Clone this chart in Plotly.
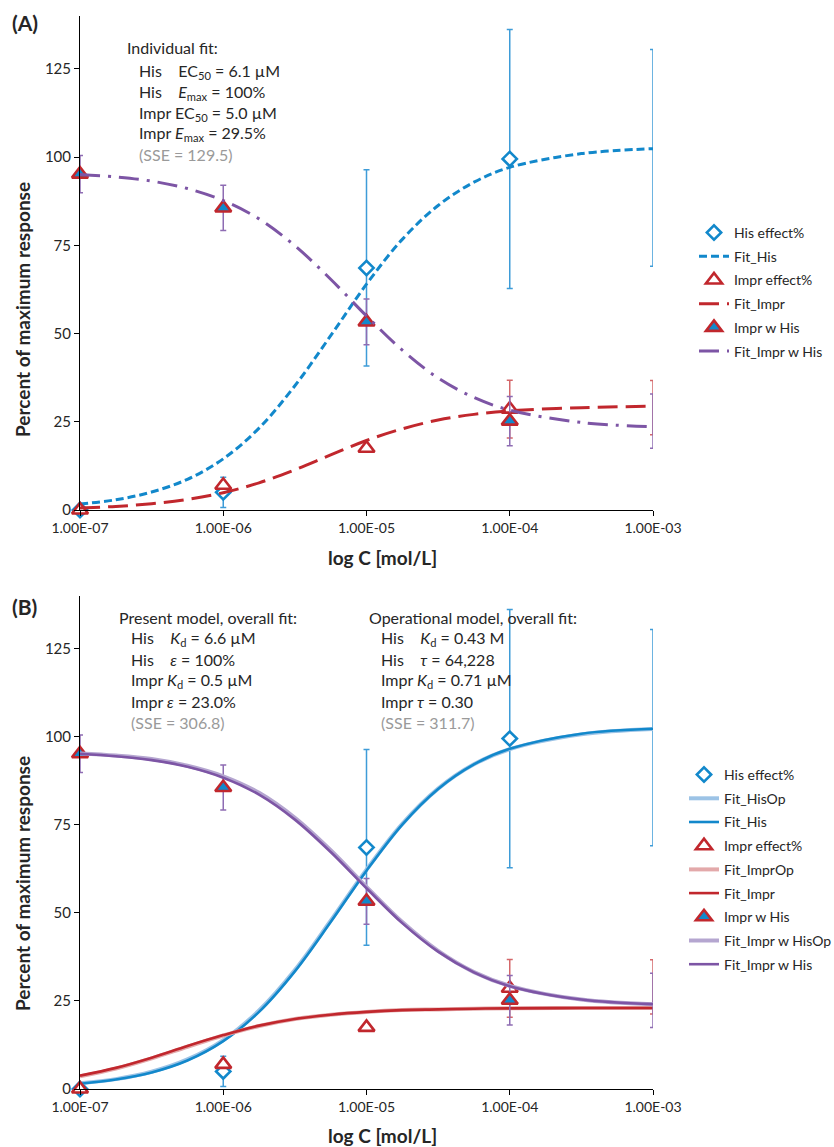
import plotly.graph_objects as go

# ---------------- data ----------------
conc = [1e-7, 1e-6, 1e-5, 1e-4, 1e-3]
tick_text = ["1.00E-07", "1.00E-06", "1.00E-05", "1.00E-04", "1.00E-03"]
y_ticks = [0, 25, 50, 75, 100, 125]

his_effect = [0.0, 5.0, 68.6, 99.5, 99.8]
his_err = [None, 4.3, 27.8, 36.7, 30.7]
impr_effect = [0.0, 7.0, 17.5, 28.6, 29.0]
impr_err = [None, None, None, 8.2, 7.7]
impr_w_his = [95.2, 85.6, 53.3, 25.2, 25.2]
impr_w_his_err = [5.3, 6.4, 6.5, 7.0, 7.7]

# fitted curves at quarter-decade steps
fit_x = [1e-7, 1.778e-7, 3.162e-7, 5.623e-7, 1e-6, 1.778e-6, 3.162e-6, 5.623e-6,
         1e-5, 1.778e-5, 3.162e-5, 5.623e-5, 1e-4, 3.162e-4, 1e-3]
# panel A
fitA_his = [1.7, 2.9, 5.1, 8.7, 14.5, 23.2, 35.2, 49.4, 64.0, 76.7, 86.3, 92.9, 97.1, 101.0, 102.4]
fitA_impr = [0.6, 1.0, 1.8, 3.0, 4.9, 7.7, 11.4, 15.6, 19.7, 23.0, 25.5, 27.1, 28.1, 29.0, 29.4]
fitA_impr_his = [95.1, 94.4, 93.2, 91.1, 87.7, 82.5, 74.9, 65.4, 55.0, 45.3, 37.4, 31.9, 28.3, 24.8, 23.6]
# panel B
fitB_his = [1.5, 2.7, 4.7, 8.1, 13.6, 21.9, 33.4, 47.4, 62.0, 75.1, 85.2, 92.2, 96.6, 100.9, 102.3]
fitB_his_op = [1.6, 2.8, 4.9, 8.4, 13.9, 22.3, 33.8, 47.8, 62.3, 75.3, 85.3, 92.2, 96.5, 100.7, 102.2]
fitB_impr = [3.8, 6.0, 8.9, 12.2, 15.3, 18.0, 19.9, 21.1, 21.9, 22.4, 22.6, 22.8, 22.9, 23.0, 23.0]
fitB_impr_op = [3.6, 5.8, 8.7, 12.0, 15.2, 17.9, 19.9, 21.1, 21.9, 22.4, 22.6, 22.8, 22.9, 23.0, 23.0]
fitB_impr_his = [95.2, 94.5, 93.4, 91.5, 88.4, 83.6, 76.5, 67.3, 57.0, 47.1, 39.0, 33.1, 29.2, 25.4, 24.1]
fitB_impr_his_op = [95.3, 94.7, 93.7, 91.8, 88.8, 84.1, 77.0, 67.8, 57.4, 47.4, 39.2, 33.2, 29.3, 25.4, 24.1]

# ---------------- styles ----------------
BLUE = "#1288CB"
BLUE_ERR = "#3E9CD8"
RED = "#C1272D"
RED_ERR = "#D4676A"
PURPLE = "#7D55A5"
PURPLE_ERR = "#8E6CB3"
LBLUE = "#9CC3E6"
LRED = "#E3A9AA"
LPURPLE = "#B5A6D0"
FONT = "Lato"
TXT = "#262626"

W, H = 834, 1147


def px(x):
    return x / W


def py(y):
    return 1 - y / H


fig = go.Figure()


def add_points(name, y, err, err_color, symbol, fill, line_col, size, xa, ya, leg):
    fig.add_trace(go.Scatter(
        x=conc, y=y, name=name, mode="markers", xaxis=xa, yaxis=ya, legend=leg,
        legendgroup=leg + name, cliponaxis=False,
        marker=dict(symbol=symbol, size=size, color=fill,
                    line=dict(color=line_col, width=2.6)),
        error_y=dict(type="data", array=err, visible=True, color=err_color,
                     thickness=1.5, width=3),
    ))


def add_line(name, y, color, width, dash, xa, ya, leg):
    fig.add_trace(go.Scatter(
        x=fit_x, y=y, name=name, mode="lines", xaxis=xa, yaxis=ya, legend=leg,
        legendgroup=leg + name, cliponaxis=False, line_shape="spline",
        line=dict(color=color, width=width, dash=dash),
    ))


# Panel A
add_points("His effect%", his_effect, his_err, BLUE_ERR, "diamond", "white", BLUE, 11, "x", "y", "legend")
add_line("Fit_His", fitA_his, BLUE, 3, "8px,4px", "x", "y", "legend")
add_points("Impr effect%", impr_effect, impr_err, RED_ERR, "triangle-up", "white", RED, 14, "x", "y", "legend")
add_line("Fit_Impr", fitA_impr, RED, 3, "20px,8px", "x", "y", "legend")
add_points("Impr w His", impr_w_his, impr_w_his_err, PURPLE_ERR, "triangle-up", BLUE, RED, 14, "x", "y", "legend")
add_line("Fit_Impr w His", fitA_impr_his, PURPLE, 3, "20px,8px,3px,8px", "x", "y", "legend")

# Panel B
add_points("His effect%", his_effect, his_err, BLUE_ERR, "diamond", "white", BLUE, 11, "x2", "y2", "legend2")
add_line("Fit_HisOp", fitB_his_op, LBLUE, 4, "solid", "x2", "y2", "legend2")
add_line("Fit_His", fitB_his, BLUE, 2.6, "solid", "x2", "y2", "legend2")
add_points("Impr effect%", impr_effect, impr_err, RED_ERR, "triangle-up", "white", RED, 14, "x2", "y2", "legend2")
add_line("Fit_ImprOp", fitB_impr_op, LRED, 4, "solid", "x2", "y2", "legend2")
add_line("Fit_Impr", fitB_impr, RED, 2.6, "solid", "x2", "y2", "legend2")
add_points("Impr w His", impr_w_his, impr_w_his_err, PURPLE_ERR, "triangle-up", BLUE, RED, 14, "x2", "y2", "legend2")
add_line("Fit_Impr w HisOp", fitB_impr_his_op, LPURPLE, 4, "solid", "x2", "y2", "legend2")
add_line("Fit_Impr w His", fitB_impr_his, PURPLE, 2.6, "solid", "x2", "y2", "legend2")

xdom = [px(80), px(653)]
axis_common = dict(showgrid=False, zeroline=False, showline=True, linecolor="#000000",
                   linewidth=1, ticks="outside", ticklen=5, tickcolor="#000000",
                   automargin=False,
                   tickfont=dict(family=FONT, size=15, color=TXT))

xaxis = dict(axis_common, type="log", range=[-7, -3], tickmode="array",
             tickvals=conc, ticktext=tick_text, domain=xdom,
             tickfont=dict(family=FONT, size=14, color=TXT))
yaxis = dict(axis_common, range=[0, 140], tickmode="array", tickvals=y_ticks)

LEGFONT = dict(family=FONT, size=14, color=TXT)
fig.update_layout(
    width=W, height=H, margin=dict(l=0, r=0, t=0, b=0, autoexpand=False),
    paper_bgcolor="white", plot_bgcolor="white",
    font=dict(family=FONT, size=15, color=TXT),
    xaxis=dict(xaxis, anchor="y"),
    yaxis=dict(yaxis, domain=[py(510), py(16)], anchor="x"),
    xaxis2=dict(xaxis, anchor="y2"),
    yaxis2=dict(yaxis, domain=[py(1089), py(596)], anchor="x2"),
    legend=dict(x=px(694), y=py(217), xanchor="left", yanchor="top",
                font=LEGFONT, tracegroupgap=2.5, bgcolor="rgba(0,0,0,0)"),
    legend2=dict(x=px(684), y=py(759), xanchor="left", yanchor="top",
                 font=LEGFONT, tracegroupgap=2.5, bgcolor="rgba(0,0,0,0)"),
)

ann = []


def text(x, y, s, size=16, color=TXT, bold=False, xanchor="left", angle=0):
    if bold:
        s = "<b>" + s + "</b>"
    ann.append(dict(x=px(x), y=py(y), xref="paper", yref="paper", text=s, showarrow=False,
                    xanchor=xanchor, yanchor="middle", textangle=angle,
                    font=dict(family=FONT, size=size, color=color)))


NB = "\u00a0"
GRAY = "#9A9A9A"

# panel labels
text(10, 22, "(A)", size=21, bold=True)
text(10, 606, "(B)", size=21, bold=True)

# axis titles
for yc in (310, 884):
    text(22, yc, "Percent of maximum response", size=19, bold=True, xanchor="center", angle=-90)
text(382, 557, "log C [mol/L]", size=19, bold=True, xanchor="center")
text(382, 1135, "log C [mol/L]", size=19, bold=True, xanchor="center")

# panel A fit text
text(125, 48, "Individual fit:")
text(137, 71, "His" + NB * 4 + "EC<sub>50</sub> = 6.1 µM")
text(137, 92, "His" + NB * 4 + "<i>E</i><sub>max</sub> = 100%")
text(137, 113, "Impr EC<sub>50</sub> = 5.0 µM")
text(137, 134, "Impr <i>E</i><sub>max</sub> = 29.5%")
text(137, 155, "(SSE = 129.5)", color=GRAY)

# panel B fit text
text(117, 617, "Present model, overall fit:")
text(129, 638, "His" + NB * 4 + "<i>K</i><sub>d</sub> = 6.6 µM")
text(129, 659, "His" + NB * 4 + "<i>ε</i> = 100%")
text(129, 680, "Impr <i>K</i><sub>d</sub> = 0.5 µM")
text(129, 701, "Impr <i>ε</i> = 23.0%")
text(129, 722, "(SSE = 306.8)", color=GRAY)

text(367, 617, "Operational model, overall fit:")
text(379, 638, "His" + NB * 4 + "<i>K</i><sub>d</sub> = 0.43 M")
text(379, 659, "His" + NB * 4 + "<i>τ</i> = 64,228")
text(379, 680, "Impr <i>K</i><sub>d</sub> = 0.71 µM")
text(379, 701, "Impr <i>τ</i> = 0.30")
text(379, 722, "(SSE = 311.7)", color=GRAY)

fig.update_layout(annotations=ann)
# remove the default 8px page margin so the figure fills the window exactly
fig.write_html("out.html", config={"displayModeBar": False},
               post_script="document.body.style.margin='0px';document.body.style.overflow='hidden';")
